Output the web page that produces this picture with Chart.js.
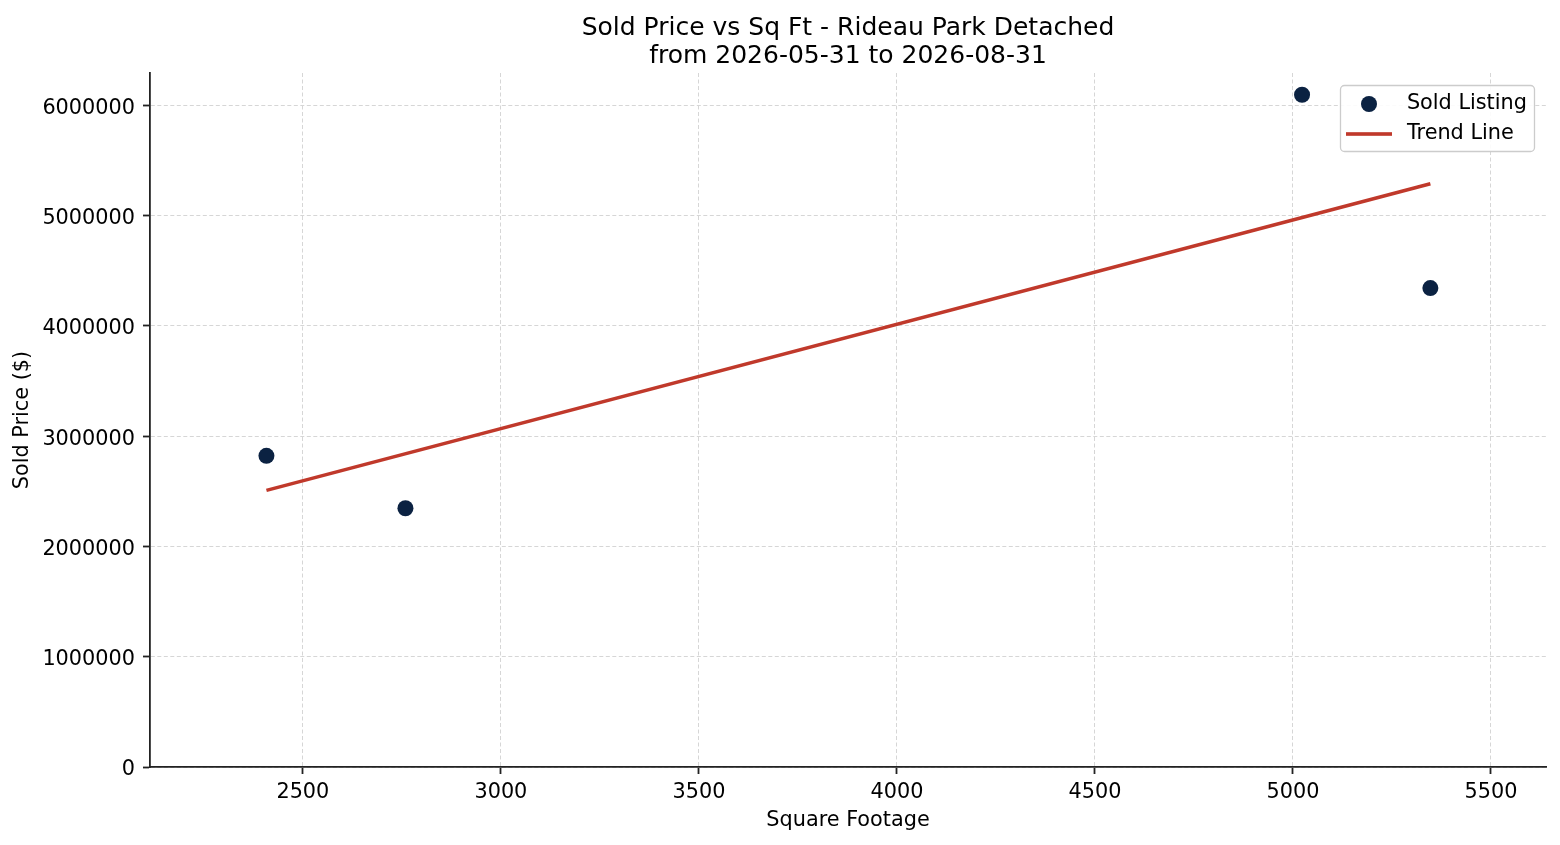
<!DOCTYPE html>
<html>
<head>
<meta charset="utf-8">
<script src="https://cdn.jsdelivr.net/npm/chart.js@4.4.1/dist/chart.umd.min.js"></script>
<style>
  html, body { margin: 0; padding: 0; background: #ffffff; }
  #wrap { width: 1560px; height: 845px; position: relative; }
</style>
</head>
<body>
<div id="wrap"><canvas id="c"></canvas></div>
<script>
// ---- data ----
const titleLines = ['Sold Price vs Sq Ft - Rideau Park Detached', 'from 2026-05-31 to 2026-08-31'];
const xAxisLabel = 'Square Footage';
const yAxisLabel = 'Sold Price ($)';
const seriesNames = ['Sold Listing', 'Trend Line'];
const sqft = [2408, 2759, 5023, 5347];
const soldPrice = [2821000, 2346000, 6095000, 4342000];
const trendSqft = [2408, 5347];
const trendPrice = [2508000, 5288000];
const xTicks = [2500, 3000, 3500, 4000, 4500, 5000, 5500];
const yTicks = [0, 1000000, 2000000, 3000000, 4000000, 5000000, 6000000];

// ---- styles ----
const POINT_COLOR = '#0b2242';
const LINE_COLOR = '#c0392b';
const AXIS_COLOR = '#222222';
const GRID_COLOR = '#d6d6d6';
const FS = 20.8;

Chart.defaults.font.family = "'DejaVu Sans', sans-serif";
Chart.defaults.color = '#000';

function makeCircleIcon() {
  const c = document.createElement('canvas');
  c.width = 18; c.height = 18;
  const g = c.getContext('2d');
  g.fillStyle = POINT_COLOR;
  g.beginPath(); g.arc(9, 9, 8, 0, Math.PI * 2); g.fill();
  return c;
}
function makeLineIcon() {
  const c = document.createElement('canvas');
  c.width = 46; c.height = 4;
  const g = c.getContext('2d');
  g.fillStyle = LINE_COLOR;
  g.fillRect(0, 0.2, 46, 3.6);
  return c;
}
const icons = [makeCircleIcon(), makeLineIcon()];

const LEG = { boxLeft: 1340.5, boxTop: 85.5, boxW: 194, boxH: 66, iconCenterX: 1369, row1Y: 104, pad: 9.2, psw: 55 };

const legendPlugin = {
  id: 'legendFrame',
  beforeDraw(chart) {
    const lg = chart.legend;
    if (!lg) return;
    const bx = LEG.iconCenterX - LEG.psw / 2;
    lg.left = bx - LEG.pad;
    lg.top = LEG.row1Y - FS / 2 - LEG.pad;
    lg.right = 1545;
    lg.bottom = 165;
    lg.width = lg.right - lg.left;
    lg.height = lg.bottom - lg.top;
  },
  afterDraw(chart) {
    const ctx = chart.ctx;
    ctx.save();
    ctx.beginPath();
    ctx.roundRect(LEG.boxLeft, LEG.boxTop, LEG.boxW, LEG.boxH, 4);
    ctx.fillStyle = 'rgba(255,255,255,0.9)';
    ctx.fill();
    ctx.lineWidth = 1.3;
    ctx.strokeStyle = '#cccccc';
    ctx.stroke();
    ctx.restore();
    chart.legend.draw();
  }
};

const ctx = document.getElementById('c').getContext('2d');
new Chart(ctx, {
  type: 'scatter',
  data: {
    datasets: [
      {
        type: 'scatter',
        label: seriesNames[0],
        data: sqft.map((x, i) => ({ x: x, y: soldPrice[i] })),
        backgroundColor: POINT_COLOR,
        borderColor: POINT_COLOR,
        borderWidth: 0,
        pointRadius: 8,
        pointHoverRadius: 8
      },
      {
        type: 'line',
        label: seriesNames[1],
        data: trendSqft.map((x, i) => ({ x: x, y: trendPrice[i] })),
        borderColor: LINE_COLOR,
        backgroundColor: LINE_COLOR,
        borderWidth: 3.6,
        borderCapStyle: 'butt',
        pointRadius: 0,
        pointHoverRadius: 0,
        fill: false,
        tension: 0
      }
    ]
  },
  options: {
    responsive: true,
    maintainAspectRatio: false,
    animation: false,
    events: [],
    layout: { padding: { left: 0, right: 14, top: 0, bottom: 0 } },
    scales: {
      x: {
        type: 'linear',
        position: 'bottom',
        min: 2114,
        max: 5639,
        afterFit: (s) => { s.height = 78; },
        afterBuildTicks: (s) => { s.ticks = xTicks.map(v => ({ value: v })); },
        ticks: {
          autoSkip: false,
          maxRotation: 0,
          padding: 6,
          color: '#000',
          font: { size: FS },
          callback: (v) => String(v)
        },
        grid: {
          color: GRID_COLOR,
          lineWidth: 1,
          drawTicks: true,
          tickLength: 7,
          tickColor: AXIS_COLOR,
          tickWidth: 1.8,
          tickBorderDash: []
        },
        border: { display: true, color: AXIS_COLOR, width: 1.8, dash: [4, 2.5] },
        title: {
          display: true,
          text: xAxisLabel,
          color: '#000',
          font: { size: FS },
          padding: { top: 0, bottom: 11.5 }
        }
      },
      y: {
        type: 'linear',
        position: 'left',
        min: 0,
        max: 6292000,
        afterFit: (s) => { s.width = 150; },
        afterBuildTicks: (s) => { s.ticks = yTicks.map(v => ({ value: v })); },
        ticks: {
          autoSkip: false,
          padding: 8,
          color: '#000',
          font: { size: FS, lineHeight: '6px' },
          callback: (v) => ['', String(v)]
        },
        grid: {
          color: GRID_COLOR,
          lineWidth: 1,
          drawTicks: true,
          tickLength: 7,
          tickColor: AXIS_COLOR,
          tickWidth: 1.8,
          tickBorderDash: []
        },
        border: { display: true, color: AXIS_COLOR, width: 1.8, dash: [4, 2.5] },
        title: {
          display: true,
          text: yAxisLabel,
          color: '#000',
          font: { size: FS },
          padding: { top: 10, bottom: 0 }
        }
      }
    },
    plugins: {
      tooltip: { enabled: false },
      title: {
        display: true,
        fullSize: false,
        text: titleLines,
        color: '#000',
        font: { size: 25, weight: 'normal', lineHeight: 1.12 },
        padding: { top: 14, bottom: 3 }
      },
      legend: {
        display: true,
        position: 'chartArea',
        align: 'start',
        labels: {
          usePointStyle: true,
          pointStyleWidth: LEG.psw,
          padding: LEG.pad,
          color: '#000',
          font: { size: FS },
          generateLabels: (chart) => seriesNames.map((name, i) => ({
            text: name,
            datasetIndex: i,
            pointStyle: icons[i],
            fillStyle: i === 0 ? POINT_COLOR : LINE_COLOR,
            strokeStyle: i === 0 ? POINT_COLOR : LINE_COLOR,
            fontColor: '#000',
            lineWidth: 0,
            hidden: false
          }))
        }
      }
    }
  },
  plugins: [legendPlugin]
});
</script>
</body>
</html>
